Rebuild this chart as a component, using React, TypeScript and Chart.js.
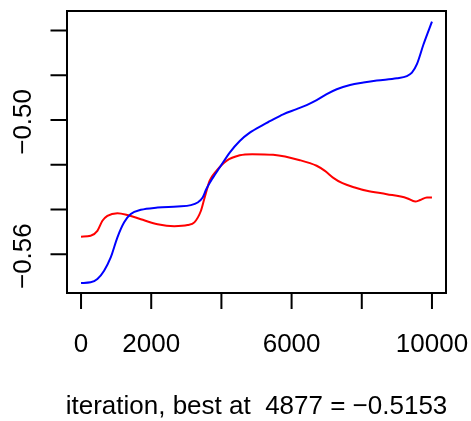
import React, { useEffect, useRef } from "react";
import { Chart, registerables } from "chart.js";

Chart.register(...registerables);

const blueX = [0, 274, 466, 657, 846, 1037, 1229, 1417, 1703, 2180, 2751, 3131, 3323, 3466, 3571, 3760, 3951, 4237, 4523, 4809, 5189, 5380, 5760, 6143, 6429, 6714, 7000, 7286, 7666, 8046, 8429, 9000, 9286, 9429, 9571, 9760, 10000];
const blueY = [-0.5729, -0.5726, -0.5711, -0.5674, -0.5615, -0.5525, -0.5458, -0.5421, -0.5402, -0.5392, -0.5387, -0.5381, -0.5369, -0.5347, -0.5309, -0.5258, -0.5213, -0.5146, -0.5094, -0.5057, -0.5022, -0.5006, -0.4975, -0.4952, -0.4934, -0.4912, -0.4885, -0.4863, -0.4844, -0.4833, -0.4824, -0.4814, -0.4804, -0.4789, -0.4751, -0.4662, -0.4561];

const redX = [0, 274, 466, 609, 751, 1037, 1323, 1703, 2180, 2657, 3037, 3229, 3417, 3523, 3666, 3857, 4143, 4523, 4877, 5474, 6237, 6714, 6950, 7200, 7450, 7800, 8143, 8714, 9286, 9523, 9666, 9857, 10000];
const redY = [-0.5522, -0.5518, -0.5496, -0.5451, -0.5429, -0.5417, -0.5425, -0.5444, -0.5466, -0.5475, -0.547, -0.5458, -0.5406, -0.5347, -0.5272, -0.5228, -0.5183, -0.5158, -0.5153, -0.5156, -0.518, -0.5205, -0.5228, -0.526, -0.5283, -0.5302, -0.5317, -0.5332, -0.535, -0.5365, -0.5358, -0.5347, -0.5347];

const xTicks = [0, 2000, 4000, 6000, 8000, 10000];
const xTickLabels = ["0", "2000", "", "6000", "", "10000"];
const yTicks = [-0.56, -0.54, -0.52, -0.5, -0.48, -0.46];
const yTickLabels = ["\u22120.56", "", "", "\u22120.50", "", ""];
const xTitle = "iteration, best at  4877 = \u22120.5153";

const FONT = "26px 'Liberation Sans', Arial, Helvetica, sans-serif";

const axesPlugin = {
  id: "rAxes",
  afterDraw(chart: any) {
    const ctx = chart.ctx as CanvasRenderingContext2D;
    const ca = chart.chartArea;
    const xs = chart.scales.x;
    const ys = chart.scales.y;
    ctx.save();
    ctx.strokeStyle = "#000";
    ctx.lineWidth = 2;
    ctx.strokeRect(ca.left, ca.top, ca.right - ca.left, ca.bottom - ca.top);
    ctx.fillStyle = "#000";
    ctx.font = FONT;
    // x axis
    ctx.beginPath();
    xTicks.forEach((t) => {
      const px = xs.getPixelForValue(t);
      ctx.moveTo(px, ca.bottom);
      ctx.lineTo(px, ca.bottom + 16);
    });
    ctx.stroke();
    ctx.textAlign = "center";
    ctx.textBaseline = "alphabetic";
    xTicks.forEach((t, i) => {
      if (xTickLabels[i]) ctx.fillText(xTickLabels[i], xs.getPixelForValue(t), 351.5);
    });
    // y axis
    ctx.beginPath();
    yTicks.forEach((t) => {
      const py = ys.getPixelForValue(t);
      ctx.moveTo(ca.left, py);
      ctx.lineTo(ca.left - 16.5, py);
    });
    ctx.stroke();
    yTicks.forEach((t, i) => {
      if (!yTickLabels[i]) return;
      const py = ys.getPixelForValue(t);
      ctx.save();
      ctx.translate(31, py + 2);
      ctx.rotate(-Math.PI / 2);
      ctx.textAlign = "center";
      ctx.textBaseline = "alphabetic";
      ctx.fillText(yTickLabels[i], 0, 0);
      ctx.restore();
    });
    // title
    ctx.textAlign = "center";
    ctx.fillText(xTitle, (ca.left + ca.right) / 2, 413.5);
    ctx.restore();
  },
};

export default function App() {
  const ref = useRef<HTMLCanvasElement | null>(null);
  useEffect(() => {
    document.body.style.margin = "0";
    const canvas = ref.current!;
    const chart = new Chart(canvas, {
      type: "line",
      data: {
        datasets: [
          {
            label: "blue",
            data: blueX.map((x, i) => ({ x, y: blueY[i] })),
            borderColor: "#0000FF",
            borderWidth: 2,
            pointRadius: 0,
            fill: false,
            cubicInterpolationMode: "monotone",
          },
          {
            label: "red",
            data: redX.map((x, i) => ({ x, y: redY[i] })),
            borderColor: "#FF0000",
            borderWidth: 2,
            pointRadius: 0,
            fill: false,
            cubicInterpolationMode: "monotone",
          },
        ],
      },
      options: {
        animation: false,
        responsive: false,
        maintainAspectRatio: false,
        layout: { padding: { left: 67, right: 25, top: 11, bottom: 128 } },
        plugins: { legend: { display: false }, tooltip: { enabled: false } },
        scales: {
          x: { type: "linear", min: -400, max: 10400, display: false },
          y: { type: "linear", min: -0.57737, max: -0.45133, display: false },
        },
      },
      plugins: [axesPlugin],
    });
    return () => chart.destroy();
  }, []);
  return <canvas ref={ref} width={471} height={421} style={{ display: "block" }} />;
}
